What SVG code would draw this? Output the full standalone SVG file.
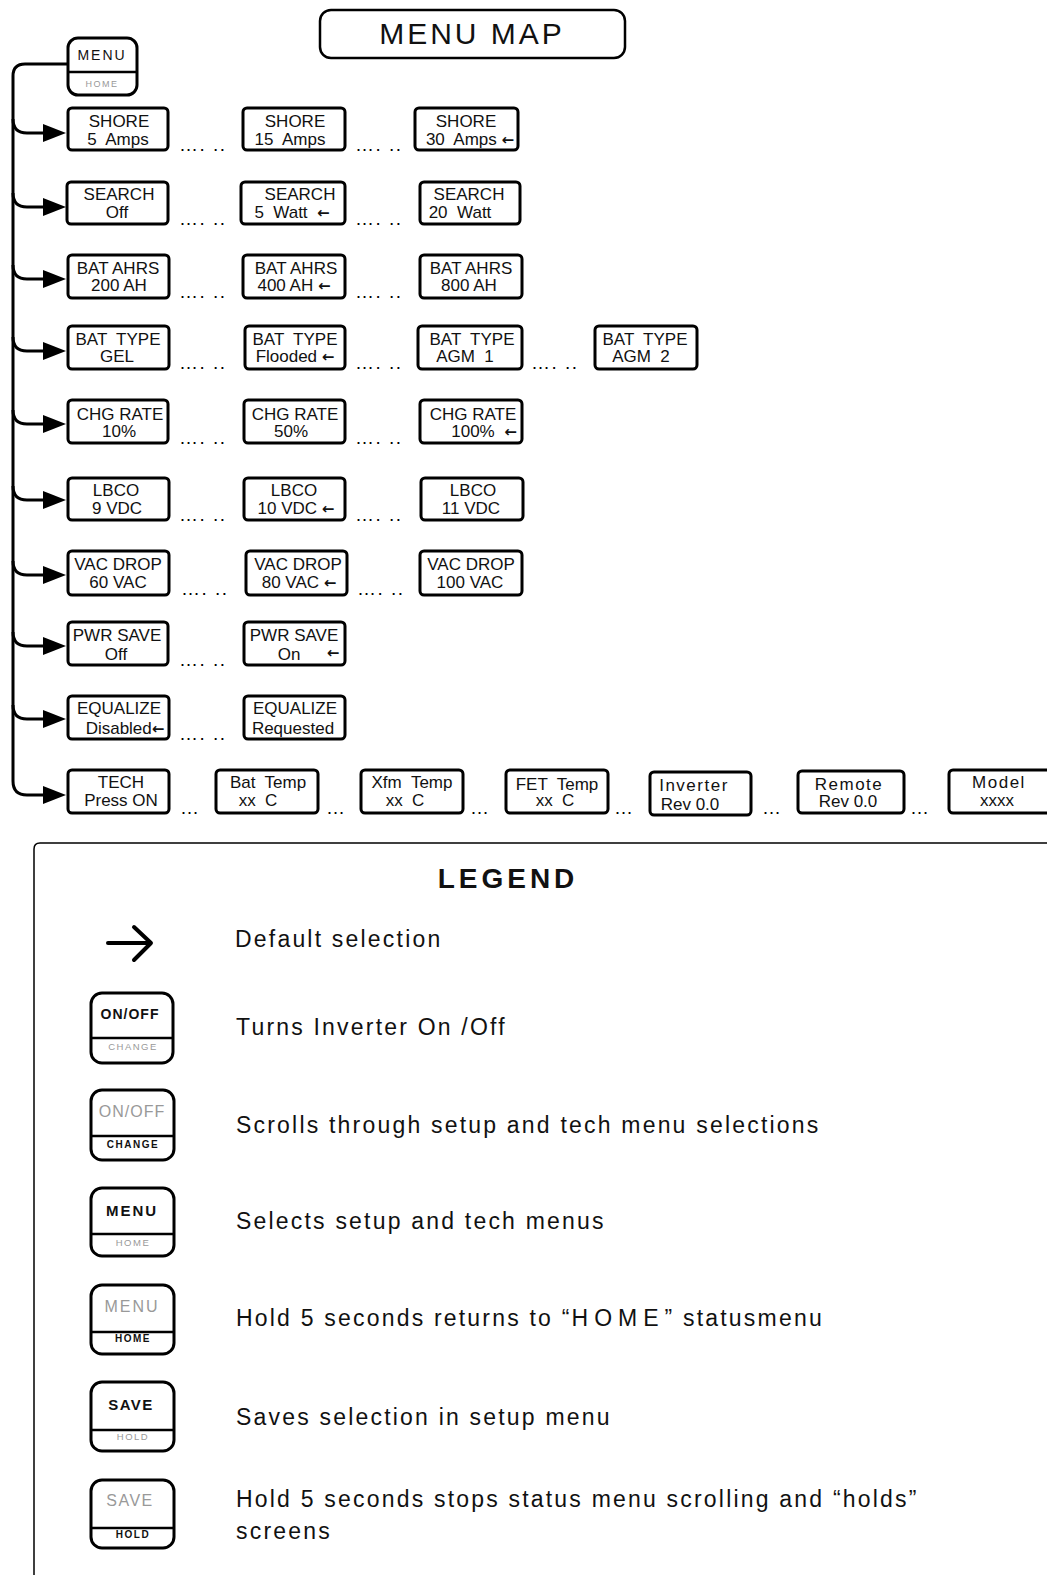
<svg xmlns="http://www.w3.org/2000/svg" width="1047" height="1575" viewBox="0 0 1047 1575">
<style>
  .bx{fill:#fff;stroke:#000;stroke-width:3}
  .t{font-family:"Liberation Sans",Arial,sans-serif;font-size:17px;text-anchor:middle;white-space:pre;fill:#111}
  .ar{font-family:"DejaVu Sans",sans-serif;font-size:15px;font-weight:bold}
  .dots{font-family:"Liberation Sans",Arial,sans-serif;font-size:19px;letter-spacing:1.5px;white-space:pre;fill:#000}
  .conn{fill:none;stroke:#000;stroke-width:3}
  .btn{fill:#fff;stroke:#000;stroke-width:3}
  .div{stroke:#000;stroke-width:2.5}
  .bb{font-family:"Liberation Sans",Arial,sans-serif;font-weight:bold;text-anchor:middle;fill:#111}
  .bg{font-family:"Liberation Sans",Arial,sans-serif;text-anchor:middle;fill:#999}
  .lg{font-family:"Liberation Sans",Arial,sans-serif;font-size:23px;letter-spacing:2.2px;white-space:pre;fill:#111}
</style>
<defs>
  <polygon id="ah" points="-23,-9 0,0 -23,9"/>
</defs>

<g id="title">
  <rect x="320" y="10" width="305" height="48" rx="11" fill="#fff" stroke="#000" stroke-width="2.5"/>
  <text x="472" y="44" font-family="Liberation Sans, Arial, sans-serif" font-size="30" letter-spacing="3" text-anchor="middle" fill="#111">MENU MAP</text>
</g>

<g id="connectors">
  <path class="conn" d="M68 64 H25 Q13 64 13 76 V781 Q13 795 27 795 H50"/>
  <path class="conn" d="M13 119 Q13 133 27 133 H50"/>
  <path class="conn" d="M13 193 Q13 207 27 207 H50"/>
  <path class="conn" d="M13 265 Q13 279 27 279 H50"/>
  <path class="conn" d="M13 337 Q13 351 27 351 H50"/>
  <path class="conn" d="M13 410 Q13 424 27 424 H50"/>
  <path class="conn" d="M13 486 Q13 500 27 500 H50"/>
  <path class="conn" d="M13 561 Q13 575 27 575 H50"/>
  <path class="conn" d="M13 632 Q13 646 27 646 H50"/>
  <path class="conn" d="M13 705 Q13 719 27 719 H50"/>
  <use href="#ah" x="66" y="133"/>
  <use href="#ah" x="66" y="207"/>
  <use href="#ah" x="66" y="279"/>
  <use href="#ah" x="66" y="351"/>
  <use href="#ah" x="66" y="424"/>
  <use href="#ah" x="66" y="500"/>
  <use href="#ah" x="66" y="575"/>
  <use href="#ah" x="66" y="646"/>
  <use href="#ah" x="66" y="719"/>
  <use href="#ah" x="66" y="795"/>
</g>

<g id="menu-button">
  <rect class="btn" x="68" y="38" width="69" height="57" rx="10"/>
  <line class="div" x1="68" y1="72" x2="137" y2="72"/>
  <text x="102" y="60" font-family="Liberation Sans, Arial, sans-serif" font-size="14" letter-spacing="2" text-anchor="middle" fill="#111">MENU</text>
  <text class="bg" x="102" y="87" font-size="9" letter-spacing="1.5">HOME</text>
</g>

<!-- Row 1 SHORE -->
<g id="shore-5"><rect class="bx" x="68" y="108" width="100" height="42" rx="4"/><text class="t" x="119" y="127">SHORE</text><text class="t" x="118" y="145">5  Amps</text></g>
<g id="shore-15"><rect class="bx" x="243" y="108" width="102" height="42" rx="4"/><text class="t" x="295" y="127">SHORE</text><text class="t" x="290" y="145">15  Amps</text></g>
<g id="shore-30"><rect class="bx" x="415" y="108" width="103" height="42" rx="4"/><text class="t" x="466" y="127">SHORE</text><text class="t" x="470" y="145">30  Amps <tspan class="ar">←</tspan></text></g>
<text class="dots" x="179" y="151">…. ..</text><text class="dots" x="355" y="151">…. ..</text>

<!-- Row 2 SEARCH -->
<g id="search-off"><rect class="bx" x="67" y="182" width="101" height="42" rx="4"/><text class="t" x="119" y="200">SEARCH</text><text class="t" x="117" y="218">Off</text></g>
<g id="search-5"><rect class="bx" x="241" y="182" width="104" height="42" rx="4"/><text class="t" x="300" y="200">SEARCH</text><text class="t" x="292" y="218">5  Watt  <tspan class="ar">←</tspan></text></g>
<g id="search-20"><rect class="bx" x="420" y="182" width="100" height="42" rx="4"/><text class="t" x="469" y="200">SEARCH</text><text class="t" x="460" y="218">20  Watt</text></g>
<text class="dots" x="179" y="225">…. ..</text><text class="dots" x="355" y="225">…. ..</text>

<!-- Row 3 BAT AHRS -->
<g id="ahrs-200"><rect class="bx" x="68" y="255" width="101" height="43" rx="4"/><text class="t" x="118" y="274">BAT AHRS</text><text class="t" x="119" y="291">200 AH</text></g>
<g id="ahrs-400"><rect class="bx" x="243" y="255" width="102" height="43" rx="4"/><text class="t" x="296" y="274">BAT AHRS</text><text class="t" x="294" y="291">400 AH <tspan class="ar">←</tspan></text></g>
<g id="ahrs-800"><rect class="bx" x="420" y="255" width="102" height="43" rx="4"/><text class="t" x="471" y="274">BAT AHRS</text><text class="t" x="469" y="291">800 AH</text></g>
<text class="dots" x="179" y="298">…. ..</text><text class="dots" x="355" y="298">…. ..</text>

<!-- Row 4 BAT TYPE -->
<g id="type-gel"><rect class="bx" x="68" y="326" width="101" height="43" rx="4"/><text class="t" x="118" y="345">BAT  TYPE</text><text class="t" x="117" y="362">GEL</text></g>
<g id="type-flooded"><rect class="bx" x="245" y="326" width="100" height="43" rx="4"/><text class="t" x="295" y="345">BAT  TYPE</text><text class="t" x="295" y="362">Flooded <tspan class="ar">←</tspan></text></g>
<g id="type-agm1"><rect class="bx" x="418" y="326" width="104" height="43" rx="4"/><text class="t" x="472" y="345">BAT  TYPE</text><text class="t" x="465" y="362">AGM  1</text></g>
<g id="type-agm2"><rect class="bx" x="595" y="326" width="102" height="43" rx="4"/><text class="t" x="645" y="345">BAT  TYPE</text><text class="t" x="641" y="362">AGM  2</text></g>
<text class="dots" x="179" y="369">…. ..</text><text class="dots" x="355" y="369">…. ..</text><text class="dots" x="531" y="369">…. ..</text>

<!-- Row 5 CHG RATE -->
<g id="chg-10"><rect class="bx" x="68" y="400" width="100" height="43" rx="4"/><text class="t" x="120" y="420">CHG RATE</text><text class="t" x="119" y="437">10%</text></g>
<g id="chg-50"><rect class="bx" x="244" y="400" width="101" height="43" rx="4"/><text class="t" x="295" y="420">CHG RATE</text><text class="t" x="291" y="437">50%</text></g>
<g id="chg-100"><rect class="bx" x="420" y="400" width="102" height="43" rx="4"/><text class="t" x="473" y="420">CHG RATE</text><text class="t" x="484" y="437">100%  <tspan class="ar">←</tspan></text></g>
<text class="dots" x="179" y="444">…. ..</text><text class="dots" x="355" y="444">…. ..</text>

<!-- Row 6 LBCO -->
<g id="lbco-9"><rect class="bx" x="68" y="478" width="101" height="42" rx="4"/><text class="t" x="116" y="496">LBCO</text><text class="t" x="117" y="514">9 VDC</text></g>
<g id="lbco-10"><rect class="bx" x="244" y="478" width="101" height="42" rx="4"/><text class="t" x="294" y="496">LBCO</text><text class="t" x="296" y="514">10 VDC <tspan class="ar">←</tspan></text></g>
<g id="lbco-11"><rect class="bx" x="421" y="478" width="102" height="42" rx="4"/><text class="t" x="473" y="496">LBCO</text><text class="t" x="471" y="514">11 VDC</text></g>
<text class="dots" x="179" y="521">…. ..</text><text class="dots" x="355" y="521">…. ..</text>

<!-- Row 7 VAC DROP -->
<g id="vac-60"><rect class="bx" x="68" y="551" width="101" height="44" rx="4"/><text class="t" x="118" y="570">VAC DROP</text><text class="t" x="118" y="588">60 VAC</text></g>
<g id="vac-80"><rect class="bx" x="246" y="551" width="101" height="44" rx="4"/><text class="t" x="298" y="570">VAC DROP</text><text class="t" x="299" y="588">80 VAC <tspan class="ar">←</tspan></text></g>
<g id="vac-100"><rect class="bx" x="420" y="551" width="102" height="44" rx="4"/><text class="t" x="471" y="570">VAC DROP</text><text class="t" x="470" y="588">100 VAC</text></g>
<text class="dots" x="181" y="595">…. ..</text><text class="dots" x="357" y="595">…. ..</text>

<!-- Row 8 PWR SAVE -->
<g id="pwr-off"><rect class="bx" x="68" y="622" width="100" height="43" rx="4"/><text class="t" x="117" y="641">PWR SAVE</text><text class="t" x="116" y="660">Off</text></g>
<g id="pwr-on"><rect class="bx" x="244" y="622" width="101" height="43" rx="4"/><text class="t" x="294" y="641">PWR SAVE</text><text class="t" x="289" y="660">On</text><text class="t ar" x="333" y="658">←</text></g>
<text class="dots" x="179" y="666">…. ..</text>

<!-- Row 9 EQUALIZE -->
<g id="eq-disabled"><rect class="bx" x="68" y="696" width="101" height="43" rx="4"/><text class="t" x="119" y="714">EQUALIZE</text><text class="t" x="125" y="734">Disabled<tspan class="ar">←</tspan></text></g>
<g id="eq-requested"><rect class="bx" x="244" y="696" width="101" height="43" rx="4"/><text class="t" x="295" y="714">EQUALIZE</text><text class="t" x="293" y="734">Requested</text></g>
<text class="dots" x="179" y="740">…. ..</text>

<!-- Row 10 TECH -->
<g id="tech"><rect class="bx" x="68" y="770" width="101" height="43" rx="4"/><text class="t" x="121" y="788">TECH</text><text class="t" x="121" y="806">Press ON</text></g>
<g id="bat-temp"><rect class="bx" x="216" y="770" width="102" height="43" rx="4"/><text class="t" x="268" y="788">Bat  Temp</text><text class="t" x="258" y="806">xx  C</text></g>
<g id="xfm-temp"><rect class="bx" x="361" y="770" width="102" height="43" rx="4"/><text class="t" x="412" y="788">Xfm  Temp</text><text class="t" x="405" y="806">xx  C</text></g>
<g id="fet-temp"><rect class="bx" x="506" y="770" width="102" height="43" rx="4"/><text class="t" x="557" y="790">FET  Temp</text><text class="t" x="555" y="806">xx  C</text></g>
<g id="inverter"><rect class="bx" x="650" y="772" width="101" height="43" rx="4"/><text class="t" x="694" y="791" letter-spacing="1.5">Inverter</text><text class="t" x="690" y="810">Rev 0.0</text></g>
<g id="remote"><rect class="bx" x="798" y="771" width="106" height="42" rx="4"/><text class="t" x="849" y="790" letter-spacing="1.5">Remote</text><text class="t" x="848" y="807">Rev 0.0</text></g>
<g id="model"><rect class="bx" x="949" y="770" width="104" height="43" rx="4"/><text class="t" x="999" y="788" letter-spacing="1.5">Model</text><text class="t" x="997" y="806">xxxx</text></g>
<text class="dots" x="180" y="814">…</text><text class="dots" x="326" y="814">…</text><text class="dots" x="470" y="814">…</text><text class="dots" x="614" y="814">…</text><text class="dots" x="762" y="814">…</text><text class="dots" x="910" y="814">…</text>

<!-- Legend -->
<g id="legend">
  <path d="M34 1575 V849 Q34 843 40 843 H1047" fill="none" stroke="#000" stroke-width="1.5"/>
  <text x="508" y="888" font-family="Liberation Sans, Arial, sans-serif" font-size="28" font-weight="bold" letter-spacing="4" text-anchor="middle" fill="#111">LEGEND</text>
  <g id="legend-arrow" fill="none" stroke="#000" stroke-width="4" stroke-linecap="round" stroke-linejoin="round">
    <line x1="108" y1="943" x2="150" y2="943"/>
    <polyline points="134,927 151,943 134,960"/>
  </g>
  <text class="lg" x="235" y="947">Default selection</text>

  <g id="btn-onoff">
    <rect class="btn" x="91" y="993" width="82" height="70" rx="11"/>
    <line class="div" x1="91" y1="1038" x2="173" y2="1038"/>
    <text class="bb" x="130" y="1019" font-size="14" letter-spacing="1">ON/OFF</text>
    <text class="bg" x="133" y="1050" font-size="9.5" letter-spacing="1.5">CHANGE</text>
  </g>
  <text class="lg" x="236" y="1035">Turns Inverter On /Off</text>

  <g id="btn-change">
    <rect class="btn" x="91" y="1090" width="83" height="70" rx="11"/>
    <line class="div" x1="91" y1="1136" x2="174" y2="1136"/>
    <text class="bg" x="132" y="1117" font-size="16" letter-spacing="1">ON/OFF</text>
    <text class="bb" x="133" y="1148" font-size="10" letter-spacing="1.5">CHANGE</text>
  </g>
  <text class="lg" x="236" y="1133">Scrolls through setup and tech menu selections</text>

  <g id="btn-menu">
    <rect class="btn" x="91" y="1188" width="83" height="68" rx="11"/>
    <line class="div" x1="91" y1="1234" x2="174" y2="1234"/>
    <text class="bb" x="132" y="1216" font-size="15" letter-spacing="2">MENU</text>
    <text class="bg" x="133" y="1246" font-size="9.5" letter-spacing="1.5">HOME</text>
  </g>
  <text class="lg" x="236" y="1229">Selects setup and tech menus</text>

  <g id="btn-home">
    <rect class="btn" x="91" y="1285" width="83" height="69" rx="11"/>
    <line class="div" x1="91" y1="1332" x2="174" y2="1332"/>
    <text class="bg" x="132" y="1312" font-size="16" letter-spacing="2">MENU</text>
    <text class="bb" x="133" y="1342" font-size="10" letter-spacing="1.5">HOME</text>
  </g>
  <text class="lg" x="236" y="1326">Hold 5 seconds returns to “<tspan letter-spacing="6">HOME</tspan>” statusmenu</text>

  <g id="btn-save">
    <rect class="btn" x="91" y="1382" width="83" height="69" rx="11"/>
    <line class="div" x1="91" y1="1430" x2="174" y2="1430"/>
    <text class="bb" x="131" y="1410" font-size="15" letter-spacing="1.5">SAVE</text>
    <text class="bg" x="133" y="1440" font-size="9.5" letter-spacing="1.5">HOLD</text>
  </g>
  <text class="lg" x="236" y="1425">Saves selection in setup menu</text>

  <g id="btn-hold">
    <rect class="btn" x="91" y="1480" width="83" height="68" rx="11"/>
    <line class="div" x1="91" y1="1528" x2="174" y2="1528"/>
    <text class="bg" x="130" y="1506" font-size="16" letter-spacing="1.5">SAVE</text>
    <text class="bb" x="133" y="1538" font-size="10" letter-spacing="1.5">HOLD</text>
  </g>
  <text class="lg" x="236" y="1507">Hold 5 seconds stops status menu scrolling and “holds”</text>
  <text class="lg" x="236" y="1539">screens</text>
</g>
</svg>
